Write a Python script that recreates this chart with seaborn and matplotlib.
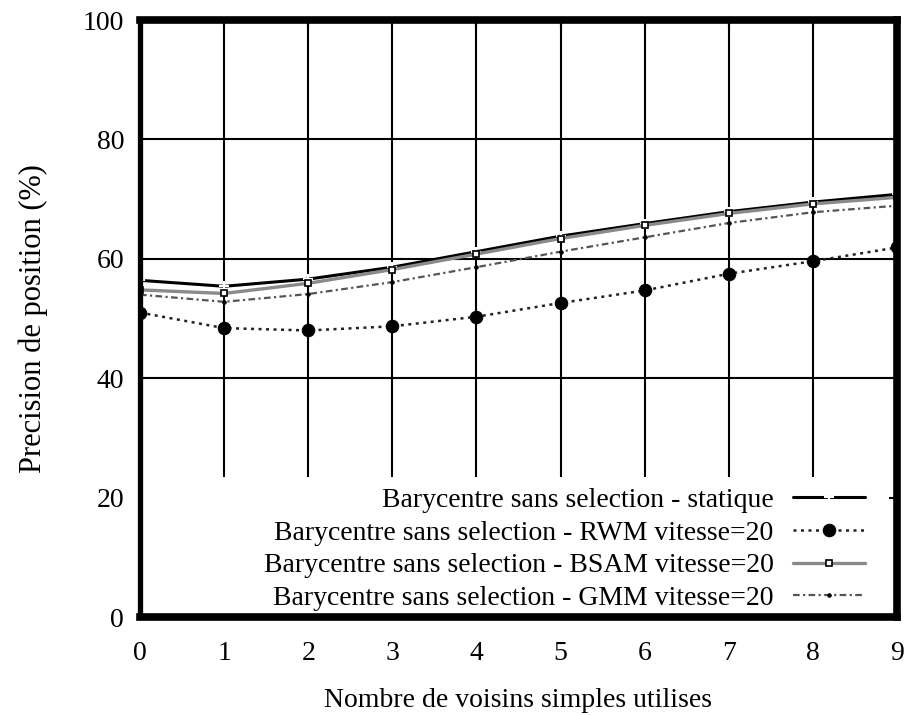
import seaborn as sns
import matplotlib.pyplot as plt
import pandas as pd


# Données
voisins = [0, 1, 2, 3, 4, 5, 6, 7, 8, 9]
statique = [56.4, 55.4, 56.6, 58.6, 61.2, 63.8, 65.9, 67.9, 69.5, 70.8]
rwm = [51.0, 48.4, 48.0, 48.7, 50.3, 52.6, 54.7, 57.5, 59.6, 61.9]
bsam = [54.8, 54.2, 55.9, 58.2, 60.8, 63.4, 65.6, 67.6, 69.2, 70.3]
gmm = [54.0, 52.8, 54.1, 56.1, 58.6, 61.2, 63.6, 66.0, 67.8, 68.9]

labels = ['Barycentre sans selection - statique',
          'Barycentre sans selection - RWM vitesse=20',
          'Barycentre sans selection - BSAM vitesse=20',
          'Barycentre sans selection - GMM vitesse=20']

sns.set_style('white')
plt.rcParams['font.family'] = ['Liberation Serif', 'DejaVu Serif']
plt.rcParams['text.color'] = 'black'
plt.rcParams['axes.labelcolor'] = 'black'
plt.rcParams['xtick.color'] = 'black'
plt.rcParams['ytick.color'] = 'black'

fig = plt.figure(figsize=(9.06, 7.15), dpi=100)
ax = fig.add_axes([0.1545, 0.137, 0.8355, 0.835])

# Courbes
sns.lineplot(x=voisins, y=statique, ax=ax, color='black', lw=2.2,
             marker='+', markersize=7, markeredgewidth=1.5, label=labels[0])
sns.lineplot(x=voisins, y=rwm, ax=ax, color='#222222', lw=1.8,
             linestyle=(0, (1.2, 1.8)), marker='o', markersize=9,
             markeredgecolor='black', markerfacecolor='black', label=labels[1])
sns.lineplot(x=voisins, y=bsam, ax=ax, color='#8a8a8a', lw=2.4,
             marker='s', markersize=5, markeredgecolor='black',
             markerfacecolor='white', markeredgewidth=1.2, label=labels[2])
sns.lineplot(x=voisins, y=gmm, ax=ax, color='#555555', lw=1.6,
             linestyle=(0, (3, 1.5, 1, 1.5)), marker='o', markersize=2.5,
             markeredgecolor='black', markerfacecolor='black', label=labels[3])

ax.set_xlim(0, 9)
ax.set_ylim(0, 100)
ax.set_xticks(range(0, 10))
ax.set_yticks(range(0, 101, 20))

# Grille (interrompue par la zone de la légende)
bas_grille = 23.5
ax.vlines(ax.get_xticks()[1:-1], bas_grille, 100, color='black', lw=1.5, zorder=1)
ax.hlines([t for t in ax.get_yticks() if bas_grille < t < 100], 0, 9,
          color='black', lw=1.5, zorder=1)

for nom, s in ax.spines.items():
    s.set_linewidth(3.8 if nom == 'left' else 5.5)
    s.set_color('black')

ax.tick_params(direction='in', length=6, width=1.5, labelsize=20,
               top=True, right=True)
ax.tick_params(axis='x', pad=17)
ax.tick_params(axis='y', pad=11.5)

ax.set_xlabel('Nombre de voisins simples utilises', fontsize=20, labelpad=16)
ax.set_ylabel('Precision de position (%)', fontsize=22)
ax.yaxis.set_label_coords(-0.122, 0.5)

leg = ax.legend(loc='lower right', bbox_to_anchor=(0.958, 0.01),
                markerfirst=False, frameon=False, fontsize=20,
                handlelength=2.6, handletextpad=0.7, labelspacing=0.26,
                borderpad=0, borderaxespad=0)

fig.savefig('out.png', dpi=100)
